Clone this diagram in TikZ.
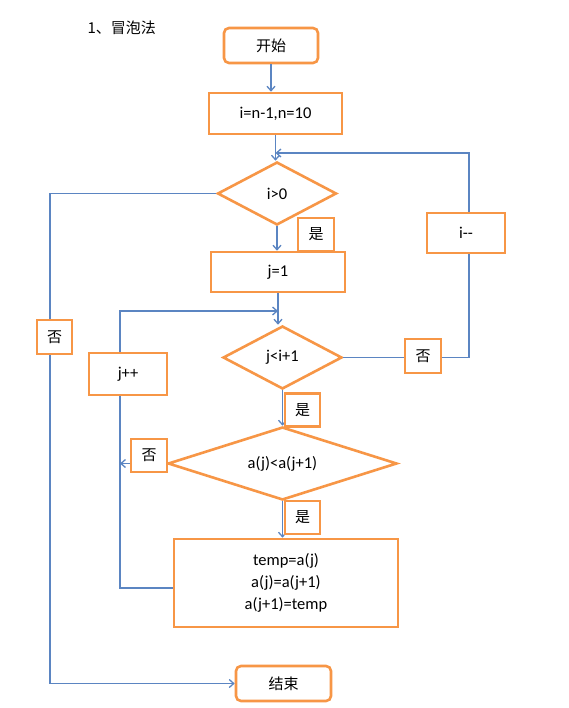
\documentclass[tikz,border=0pt]{standalone}
\usepackage{fontspec}
\setmainfont{Carlito}
\newfontfamily\cjk{Noto Sans CJK SC}
\usetikzlibrary{shapes.geometric,arrows.meta}
\definecolor{boxorange}{HTML}{F79646}
\definecolor{lineblue}{HTML}{5B85C2}
\begin{document}
\begin{tikzpicture}[x=1pt,y=-1pt,
  box/.style={draw=boxorange,line width=2.6pt,fill=white,inner sep=0pt,
    font=\fontsize{16.5}{20}\selectfont,align=center},
  rbox/.style={box,rounded corners=5pt},
  dia/.style={diamond,draw=boxorange,line width=2.6pt,fill=white,inner sep=0pt,
    font=\fontsize{16.5}{20}\selectfont},
  lbl/.style={box,minimum width=35pt,minimum height=33pt,font=\cjk\fontsize{15}{18}\selectfont},
  conn/.style={draw=lineblue,line width=1.5pt},
  arr/.style={conn,-{Straight Barb[length=4.5pt,width=8pt,line width=1.3pt]}}
]
\useasboundingbox[fill=white] (0,0) rectangle (569,708);

\node[anchor=west,font=\cjk\fontsize{15}{18}\selectfont] (title) at (84,28) {1、冒泡法};

\node[rbox,minimum width=94pt,minimum height=35pt,font=\cjk\fontsize{15}{18}\selectfont] (start) at (271,45.5) {开始};
\node[box,minimum width=133pt,minimum height=41pt] (init) at (275.5,113.5) {i=n-1,n=10};
\node[dia,minimum width=119pt,minimum height=63pt,aspect=1.9] (d1) at (277,193.5) {i>0};
\node[box,minimum width=134pt,minimum height=40pt] (j1) at (278,272) {j=1};
\node[dia,minimum width=119pt,minimum height=63pt,aspect=1.9] (d2) at (282.5,357.5) {j<i+1};
\node[dia,minimum width=229pt,minimum height=73pt,aspect=3.14] (d3) at (282.5,463.5) {a(j)<a(j+1)};
\node[box,minimum width=224pt,minimum height=88pt,font=\fontsize{16.5}{22}\selectfont] (tbox) at (286,583) {temp=a(j)\\a(j)=a(j+1)\\a(j+1)=temp};
\node[rbox,minimum width=95pt,minimum height=35pt,font=\cjk\fontsize{15}{18}\selectfont] (end) at (283.5,683.5) {结束};

\coordinate (rx) at (469,0);
\coordinate (lx) at (120,0);
\coordinate (fx) at (50,0);
\coordinate (m1) at (275.5,153);
\coordinate (m2) at (278,311);

% connectors
\draw[arr] (start.south) -- (start.south |- init.north);
\draw[arr] (init.south) -- (init.south |- d1.north);
\draw[arr] (d2.east) -- (d2.east -| rx) -- (m1 -| rx) -- (m1);
\draw[arr] (d1.west) -- (d1.west -| fx) -- (end.west -| fx) -- (end.west);
\draw[arr] (d1.south) -- (d1.south |- j1.north);
\draw[arr] (j1.south) -- (j1.south |- d2.north);
\draw[arr] ([yshift=-5pt]tbox.west) -- ([yshift=-5pt]tbox.west -| lx) -- (m2 -| lx) -- (m2);
\draw[arr] (d2.south) -- (d2.south |- d3.north);
\draw[arr] (d3.west) -- (d3.west -| lx);
\draw[arr] (d3.south) -- (d3.south |- tbox.north);

% labels on lines
\node[lbl,minimum width=36pt] (yes1) at (316,234.5) {是};
\node[lbl] (yes2) at (302.5,410) {是};
\node[lbl] (yes3) at (302.5,517.5) {是};
\node[lbl,minimum height=34pt] (no1) at (54.5,337) {否};
\node[lbl,minimum width=36pt,minimum height=34pt] (no2) at (423,356) {否};
\node[lbl,minimum width=36pt] (no3) at (149,455.5) {否};
\node[box,minimum width=78pt,minimum height=40pt] (idec) at (466,233) {i{-}{-}};
\node[box,minimum width=78pt,minimum height=42pt] (jinc) at (128,374) {j++};
\end{tikzpicture}
\end{document}
